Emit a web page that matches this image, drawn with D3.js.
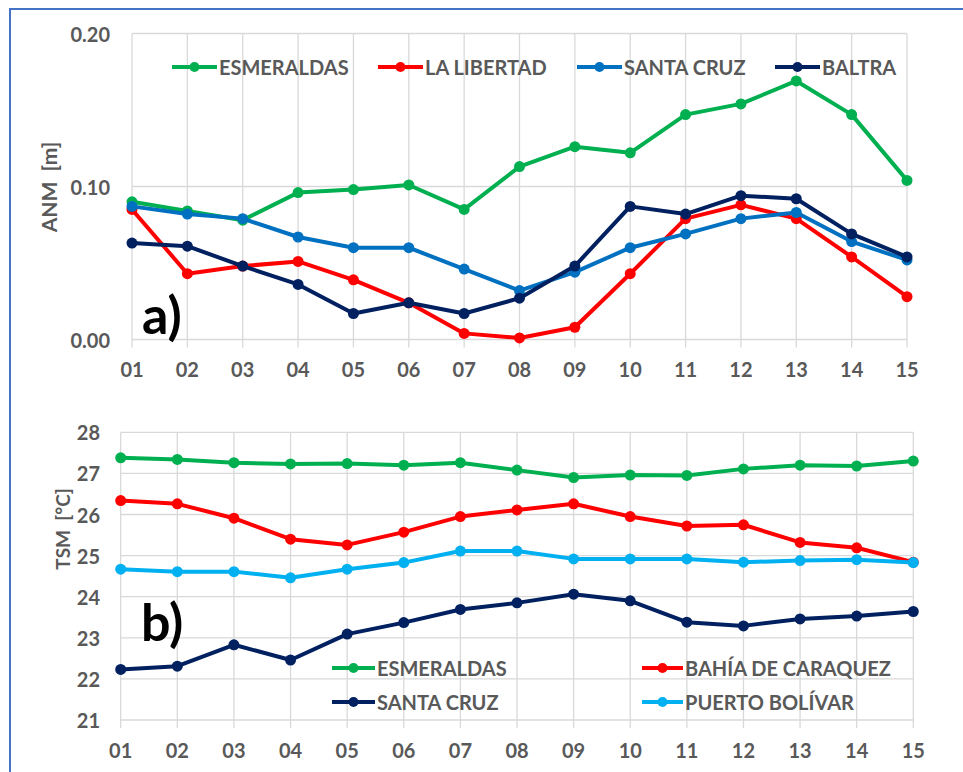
<!DOCTYPE html>
<html>
<head>
<meta charset="utf-8">
<script src="https://cdn.jsdelivr.net/npm/d3@7"></script>
<style>
  html, body { margin: 0; padding: 0; background: #fff; }
  svg { display: block; }
  text { font-family: Lato, "Open Sans", sans-serif; font-weight: 700; }
</style>
</head>
<body>
<script>
// Days shared by both panels
const days = ["01","02","03","04","05","06","07","08","09","10","11","12","13","14","15"];

// Panel a) sea level anomaly (m)
const anmEsmeraldas = [0.090,0.084,0.078,0.096,0.098,0.101,0.085,0.113,0.126,0.122,0.147,0.154,0.169,0.147,0.104];
const anmLaLibertad = [0.085,0.043,0.048,0.051,0.039,0.024,0.004,0.001,0.008,0.043,0.079,0.088,0.079,0.054,0.028];
const anmSantaCruz  = [0.087,0.082,0.079,0.067,0.060,0.060,0.046,0.032,0.044,0.060,0.069,0.079,0.083,0.064,0.052];
const anmBaltra     = [0.063,0.061,0.048,0.036,0.017,0.024,0.017,0.027,0.048,0.087,0.082,0.094,0.092,0.069,0.054];
const anmTicks = [0, 0.1, 0.2];

// Panel b) sea surface temperature (°C)
const tsmEsmeraldas = [27.38,27.34,27.26,27.23,27.24,27.20,27.26,27.08,26.90,26.96,26.95,27.11,27.20,27.18,27.30];
const tsmBahia      = [26.34,26.26,25.91,25.40,25.26,25.57,25.95,26.11,26.26,25.95,25.72,25.75,25.32,25.19,24.84];
const tsmSantaCruz  = [22.23,22.31,22.83,22.46,23.09,23.37,23.69,23.85,24.06,23.90,23.38,23.29,23.46,23.53,23.64];
const tsmBolivar    = [24.67,24.61,24.61,24.46,24.67,24.83,25.11,25.11,24.92,24.92,24.92,24.84,24.88,24.90,24.83];
const tsmTicks = [21,22,23,24,25,26,27,28];

const C = { green:"#00B050", red:"#FF0000", blue:"#0070C0", navy:"#002060", sky:"#00B0F0" };
const labelColor = "#595959";
const gridColor = "#D9D9D9";

const W = 963, H = 772;
const svg = d3.select("body").append("svg").attr("width", W).attr("height", H);

// outer frame
svg.append("rect").attr("x", 10).attr("y", 9).attr("width", 980).attr("height", 800)
  .attr("fill", "none").attr("stroke", "#4472C4").attr("stroke-width", 2);

function panel(cfg) {
  const x = d3.scalePoint().domain(days).range(cfg.xr);
  const y = d3.scaleLinear().domain(cfg.yd).range(cfg.yr);
  const g = svg.append("g");

  // horizontal gridlines
  g.selectAll(null).data(cfg.ticks).enter().append("line")
    .attr("x1", cfg.xr[0]).attr("x2", cfg.xr[1])
    .attr("y1", d => y(d)).attr("y2", d => y(d))
    .attr("stroke", gridColor).attr("stroke-width", 1.3);
  // vertical gridlines, extended below the baseline as tick marks
  g.selectAll(null).data(days).enter().append("line")
    .attr("x1", d => x(d)).attr("x2", d => x(d))
    .attr("y1", cfg.yr[1]).attr("y2", cfg.yr[0] + 8)
    .attr("stroke", gridColor).attr("stroke-width", 1.3);

  // y tick labels
  g.selectAll(null).data(cfg.ticks).enter().append("text")
    .attr("x", cfg.yLabelX).attr("y", d => y(d))
    .attr("text-anchor", "end").attr("dominant-baseline", "central")
    .attr("fill", labelColor).attr("font-size", 20)
    .text(cfg.fmt);
  // x tick labels
  g.selectAll(null).data(days).enter().append("text")
    .attr("x", d => x(d)).attr("y", cfg.xLabelY)
    .attr("text-anchor", "middle").attr("dominant-baseline", "central")
    .attr("fill", labelColor).attr("font-size", 20)
    .text(d => d);

  // axis title
  g.append("text")
    .attr("transform", `translate(${cfg.title.x},${cfg.title.y}) rotate(-90)`)
    .attr("text-anchor", "middle").attr("dominant-baseline", "central")
    .attr("fill", labelColor).attr("font-size", cfg.title.size)
    .attr("xml:space", "preserve")
    .text(cfg.title.text);

  // panel letter
  g.append("text").attr("x", cfg.letter.x).attr("y", cfg.letter.y)
    .attr("fill", "#000").attr("font-size", 52).attr("font-weight", 900)
    .text(cfg.letter.text);

  const line = d3.line().x((d, i) => x(days[i])).y(d => y(d));
  cfg.series.forEach(s => {
    const sg = g.append("g");
    sg.append("path").datum(s.values).attr("d", line)
      .attr("fill", "none").attr("stroke", s.color).attr("stroke-width", 4)
      .attr("stroke-linejoin", "round");
    sg.selectAll(null).data(s.values).enter().append("circle")
      .attr("cx", (d, i) => x(days[i])).attr("cy", d => y(d))
      .attr("r", cfg.r).attr("fill", s.color);
  });

  // legend
  cfg.legend.forEach(l => {
    const lg = g.append("g").attr("transform", `translate(${l.x},${l.y})`);
    lg.append("line").attr("x1", 0).attr("x2", l.len).attr("y1", 0).attr("y2", 0)
      .attr("stroke", l.color).attr("stroke-width", 4);
    lg.append("circle").attr("cx", l.len / 2).attr("cy", 0).attr("r", 5).attr("fill", l.color);
    lg.append("text").attr("x", l.len + 2).attr("y", 0)
      .attr("dominant-baseline", "central").attr("fill", labelColor).attr("font-size", 20)
      .text(l.name);
  });
}

panel({
  xr: [132, 907], yd: [0, 0.2], yr: [339.5, 33.5], ticks: anmTicks,
  fmt: d3.format(".2f"), yLabelX: 110, xLabelY: 369, r: 5.5,
  title: { x: 48, y: 187, text: "ANM  [m]", size: 21 },
  letter: { x: 142, y: 334, text: "a)" },
  series: [
    { color: C.green, values: anmEsmeraldas },
    { color: C.red,   values: anmLaLibertad },
    { color: C.blue,  values: anmSantaCruz },
    { color: C.navy,  values: anmBaltra }
  ],
  legend: [
    { x: 172, y: 67, len: 45, color: C.green, name: "ESMERALDAS" },
    { x: 378, y: 67, len: 45, color: C.red,   name: "LA LIBERTAD" },
    { x: 577, y: 67, len: 45, color: C.blue,  name: "SANTA CRUZ" },
    { x: 775, y: 67, len: 45, color: C.navy,  name: "BALTRA" }
  ]
});

panel({
  xr: [120.7, 913.3], yd: [21, 28], yr: [720, 432.3], ticks: tsmTicks,
  fmt: d => d, yLabelX: 100, xLabelY: 750, r: 5.5,
  title: { x: 62, y: 529, text: "TSM  [°C]", size: 19 },
  letter: { x: 141, y: 641, text: "b)" },
  series: [
    { color: C.green, values: tsmEsmeraldas },
    { color: C.red,   values: tsmBahia },
    { color: C.navy,  values: tsmSantaCruz },
    { color: C.sky,   values: tsmBolivar }
  ],
  legend: [
    { x: 332, y: 668, len: 43, color: C.green, name: "ESMERALDAS" },
    { x: 642, y: 668, len: 41, color: C.red,   name: "BAHÍA DE CARAQUEZ" },
    { x: 332, y: 702, len: 43, color: C.navy,  name: "SANTA CRUZ" },
    { x: 642, y: 702, len: 41, color: C.sky,   name: "PUERTO BOLÍVAR" }
  ]
});
</script>
</body>
</html>
